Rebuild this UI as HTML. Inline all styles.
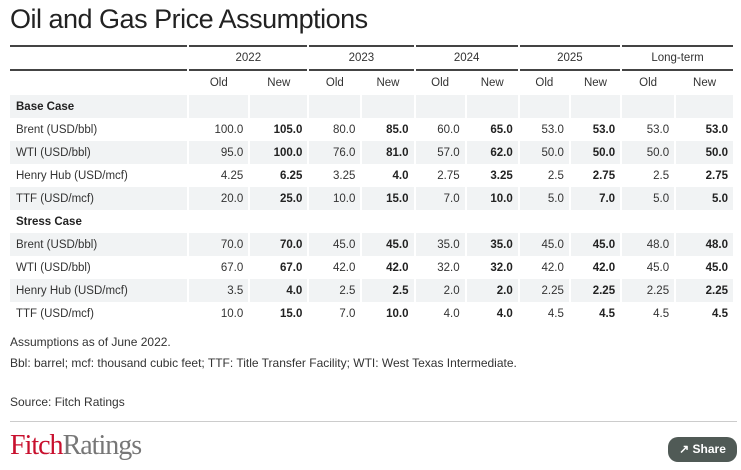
<!DOCTYPE html>
<html><head><style>
body{margin:0;width:741px;height:470px;background:#fff;font-family:"Liberation Sans",sans-serif;color:#333;position:relative;overflow:hidden}
.t{position:absolute;left:10px;top:4px;font-size:27px;color:#222;letter-spacing:-0.5px}
table{position:absolute;left:10px;top:45px;width:727px;border-collapse:separate;border-spacing:2px 0;margin-left:-2px;font-size:11.5px}
td{height:23px;padding:0 5px;white-space:nowrap}
.hy td{border-top:2px solid #444;border-bottom:2px solid #444;text-align:center;height:22px}
.hs td{text-align:center;height:24px}
.g td{background:#f1f3f4}
.n{text-align:right}
b{font-weight:bold;color:#222}
.l{padding-left:6px}
.c{font-weight:bold;color:#222}
.p{position:absolute;left:10px;font-size:12px}
.ln{position:absolute;left:10px;width:727px;top:421px;border-top:1px solid #ccc}
.logo{position:absolute;left:10px;top:430px;font-family:"Liberation Serif",serif;font-size:28px;letter-spacing:-1px}
.sh{position:absolute;left:668px;top:437px;width:69px;height:25px;background:#505a56;border-radius:10px;color:#fff;font-size:12px;font-weight:bold;line-height:25px;text-align:center}
</style></head><body>
<div class="t">Oil and Gas Price Assumptions</div>
<table>
<colgroup><col style="width:180px"><col style="width:60px"><col style="width:58px"><col style="width:52px"><col style="width:52px"><col style="width:50px"><col style="width:52px"><col style="width:50px"><col style="width:50px"><col style="width:53px"><col style="width:58px"></colgroup>
<tr class="hy"><td></td><td colspan="2">2022</td><td colspan="2">2023</td><td colspan="2">2024</td><td colspan="2">2025</td><td colspan="2">Long-term</td></tr>
<tr class="hs"><td></td><td>Old</td><td>New</td><td>Old</td><td>New</td><td>Old</td><td>New</td><td>Old</td><td>New</td><td>Old</td><td>New</td></tr>
<tr class="g"><td class="l c">Base Case</td><td></td><td></td><td></td><td></td><td></td><td></td><td></td><td></td><td></td><td></td></tr>
<tr><td class="l">Brent (USD/bbl)</td><td class="n">100.0</td><td class="n"><b>105.0</b></td><td class="n">80.0</td><td class="n"><b>85.0</b></td><td class="n">60.0</td><td class="n"><b>65.0</b></td><td class="n">53.0</td><td class="n"><b>53.0</b></td><td class="n">53.0</td><td class="n"><b>53.0</b></td></tr>
<tr class="g"><td class="l">WTI (USD/bbl)</td><td class="n">95.0</td><td class="n"><b>100.0</b></td><td class="n">76.0</td><td class="n"><b>81.0</b></td><td class="n">57.0</td><td class="n"><b>62.0</b></td><td class="n">50.0</td><td class="n"><b>50.0</b></td><td class="n">50.0</td><td class="n"><b>50.0</b></td></tr>
<tr><td class="l">Henry Hub (USD/mcf)</td><td class="n">4.25</td><td class="n"><b>6.25</b></td><td class="n">3.25</td><td class="n"><b>4.0</b></td><td class="n">2.75</td><td class="n"><b>3.25</b></td><td class="n">2.5</td><td class="n"><b>2.75</b></td><td class="n">2.5</td><td class="n"><b>2.75</b></td></tr>
<tr class="g"><td class="l">TTF (USD/mcf)</td><td class="n">20.0</td><td class="n"><b>25.0</b></td><td class="n">10.0</td><td class="n"><b>15.0</b></td><td class="n">7.0</td><td class="n"><b>10.0</b></td><td class="n">5.0</td><td class="n"><b>7.0</b></td><td class="n">5.0</td><td class="n"><b>5.0</b></td></tr>
<tr><td class="l c">Stress Case</td><td></td><td></td><td></td><td></td><td></td><td></td><td></td><td></td><td></td><td></td></tr>
<tr class="g"><td class="l">Brent (USD/bbl)</td><td class="n">70.0</td><td class="n"><b>70.0</b></td><td class="n">45.0</td><td class="n"><b>45.0</b></td><td class="n">35.0</td><td class="n"><b>35.0</b></td><td class="n">45.0</td><td class="n"><b>45.0</b></td><td class="n">48.0</td><td class="n"><b>48.0</b></td></tr>
<tr><td class="l">WTI (USD/bbl)</td><td class="n">67.0</td><td class="n"><b>67.0</b></td><td class="n">42.0</td><td class="n"><b>42.0</b></td><td class="n">32.0</td><td class="n"><b>32.0</b></td><td class="n">42.0</td><td class="n"><b>42.0</b></td><td class="n">45.0</td><td class="n"><b>45.0</b></td></tr>
<tr class="g"><td class="l">Henry Hub (USD/mcf)</td><td class="n">3.5</td><td class="n"><b>4.0</b></td><td class="n">2.5</td><td class="n"><b>2.5</b></td><td class="n">2.0</td><td class="n"><b>2.0</b></td><td class="n">2.25</td><td class="n"><b>2.25</b></td><td class="n">2.25</td><td class="n"><b>2.25</b></td></tr>
<tr><td class="l">TTF (USD/mcf)</td><td class="n">10.0</td><td class="n"><b>15.0</b></td><td class="n">7.0</td><td class="n"><b>10.0</b></td><td class="n">4.0</td><td class="n"><b>4.0</b></td><td class="n">4.5</td><td class="n"><b>4.5</b></td><td class="n">4.5</td><td class="n"><b>4.5</b></td></tr>
</table>
<div class="p" style="top:335px">Assumptions as of June 2022.</div>
<div class="p" style="top:356px">Bbl: barrel; mcf: thousand cubic feet; TTF: Title Transfer Facility; WTI: West Texas Intermediate.</div>
<div class="p" style="top:395px">Source: Fitch Ratings</div>
<div class="ln"></div>
<div class="logo"><span style="color:#c8102e">Fitch</span><span style="color:#777">Ratings</span></div>
<div class="sh">&#x2197; Share</div>
</body></html>
